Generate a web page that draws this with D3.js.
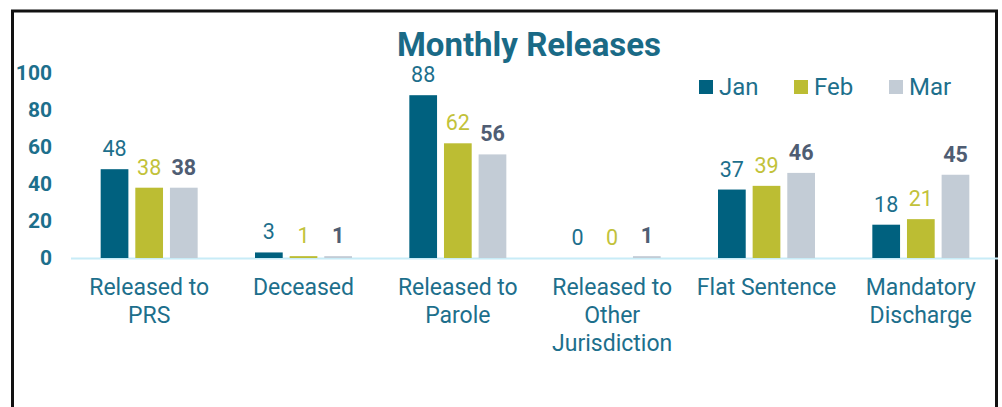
<!DOCTYPE html>
<html><head><meta charset="utf-8">
<script src="https://cdn.jsdelivr.net/npm/d3@7/dist/d3.min.js"></script>
<style>body{margin:0;background:#fff;}svg{display:block;font-family:Roboto,"Open Sans",sans-serif;}</style>
</head><body>
<svg id="c" width="1002" height="407"></svg>
<script>
const categories = [["Released to","PRS"],["Deceased"],["Released to","Parole"],["Released to","Other","Jurisdiction"],["Flat Sentence"],["Mandatory","Discharge"]];
const months = ["Jan","Feb","Mar"];
const jan = [48,3,88,0,37,18];
const feb = [38,1,62,0,39,21];
const mar = [38,1,56,1,46,45];
const yTicks = [0,20,40,60,80,100];
const barColors = ["#00617f","#bcbd33","#c3ccd6"];
const labelColors = ["#1d6f8c","#c2c23a","#4f5d73"];
const labelWeights = ["400","400","700"];
const series = [jan,feb,mar];

const svg = d3.select("#c");
svg.append("rect").attr("x",12.5).attr("y",11).attr("width",984).attr("height",420)
  .attr("fill","none").attr("stroke","#111").attr("stroke-width",3);

const x0 = d3.scaleBand().domain(d3.range(categories.length)).range([72,998]).paddingInner(0).paddingOuter(0);
const x1 = d3.scaleBand().domain(months).range([x0.bandwidth()/2-48.5, x0.bandwidth()/2+48.5]).paddingInner(0.2);
const y = d3.scaleLinear().domain([0,100]).range([258,73]);

svg.append("text").attr("x",529).attr("y",56).attr("text-anchor","middle")
  .attr("font-size",33).attr("font-weight",700).attr("fill","#1a6a86").text("Monthly Releases");

// y tick labels
svg.append("g").selectAll("text").data(yTicks).join("text")
  .attr("x",52).attr("y",d=>y(d)).attr("dy","0.35em").attr("text-anchor","end")
  .attr("font-size",21).attr("font-weight",700).attr("fill","#1d6f8c").text(d=>d);

// baseline
svg.append("line").attr("x1",71).attr("x2",998).attr("y1",y(0)+0.5).attr("y2",y(0)+0.5)
  .attr("stroke","#c8ecf7").attr("stroke-width",2);

const groups = svg.append("g").selectAll("g").data(categories).join("g")
  .attr("transform",(d,i)=>`translate(${x0(i)},0)`);

months.forEach((m,k)=>{
  groups.append("rect").attr("x",x1(m)).attr("width",x1.bandwidth())
    .attr("y",(d,i)=>y(series[k][i])).attr("height",(d,i)=>y(0)-y(series[k][i]))
    .attr("fill",barColors[k]);
  groups.append("text").attr("x",x1(m)+x1.bandwidth()/2).attr("y",(d,i)=>y(series[k][i])-13)
    .attr("text-anchor","middle").attr("font-size",21.5).attr("font-weight",labelWeights[k])
    .attr("fill",labelColors[k]).text((d,i)=>series[k][i]);
});

// category labels
groups.each(function(lines){
  const t = d3.select(this).append("text").attr("text-anchor","middle")
    .attr("font-size",23).attr("fill","#1d6f8c");
  lines.forEach((l,j)=>{
    t.append("tspan").attr("x",x0.bandwidth()/2).attr("y",295+j*28).text(l);
  });
});

// legend
const lx = [699,794,889];
const lg = svg.append("g").selectAll("g").data(months).join("g")
  .attr("transform",(d,i)=>`translate(${lx[i]},80)`);
lg.append("rect").attr("width",14).attr("height",14).attr("fill",(d,i)=>barColors[i]);
lg.append("text").attr("x",20).attr("y",15).attr("font-size",24).attr("fill","#1d6f8c").text(d=>d);
</script>
</body></html>
